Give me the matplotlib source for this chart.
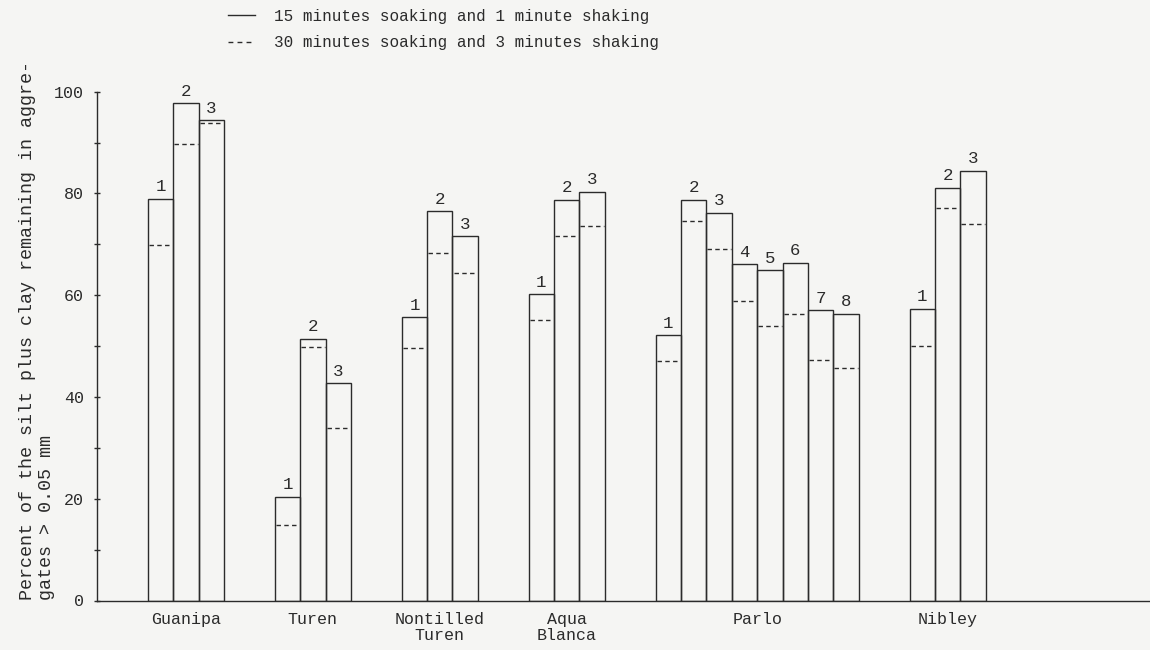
import numpy as np
import matplotlib.pyplot as plt
from matplotlib.lines import Line2D

plt.rcParams['font.family'] = ['Liberation Mono', 'DejaVu Sans Mono']

soils = ["Guanipa", "Turen", "Nontilled\nTuren", "Aqua\nBlanca", "Parlo", "Nibley"]

# % silt+clay left in aggregates, 15 min soaking / 1 min shaking
soak15 = [
    [79.0, 97.7, 94.4],
    [20.4, 51.4, 42.7],
    [55.7, 76.5, 71.6],
    [60.2, 78.8, 80.3],
    [52.1, 78.7, 76.2, 66.1, 64.9, 66.4, 57.0, 56.3],
    [57.3, 81.1, 84.5],
]
# same, 30 min soaking / 3 min shaking
soak30 = [
    [69.8, 89.8, 93.8],
    [14.9, 49.9, 34.0],
    [49.6, 68.2, 64.3],
    [55.2, 71.7, 73.7],
    [47.1, 74.6, 69.0, 58.8, 54.0, 56.3, 47.3, 45.7],
    [50.1, 77.1, 74.0],
]

ink = '#2b2b2b'
bg = '#f5f5f3'
dash = (0, (3.2, 2.4))

fig = plt.figure(figsize=(11.5, 6.5), dpi=100, facecolor=bg)
ax = fig.add_axes([97 / 1150, 49.5 / 650, 1 - 97 / 1150, 508.8 / 650])
ax.set_facecolor(bg)

pos = 0
centers = []
for s_vals, l_vals in zip(soak15, soak30):
    n = len(s_vals)
    xs = pos + np.arange(n)
    ax.bar(xs, s_vals, width=1, align='edge', fill=False,
           edgecolor=ink, linewidth=1.0)
    ax.hlines(l_vals, xs + 0.04, xs + 0.96, colors=ink, linestyles=dash, lw=1.0)
    for k, (x, v) in enumerate(zip(xs, s_vals)):
        ax.text(x + 0.5, v + 0.9, str(k + 1), ha='center', va='bottom',
                fontsize=12.5, color=ink, clip_on=False)
    centers.append(pos + n / 2)
    pos += n + 2

ax.set_xlim(-2.0, 39.47)
ax.set_ylim(0, 100)
ax.spines['top'].set_visible(False)
ax.spines['right'].set_visible(False)
for sp in ('left', 'bottom'):
    ax.spines[sp].set_color(ink)
    ax.spines[sp].set_linewidth(1.0)

ax.set_xticks(centers)
ax.set_xticklabels(soils, fontsize=12, color=ink, linespacing=1.1)
ax.tick_params(axis='x', length=0, pad=8)

ax.set_yticks(np.arange(0, 101, 20))
ax.set_yticks(np.arange(10, 100, 20), minor=True)
ax.tick_params(axis='y', which='both', direction='inout', length=5,
               width=1.0, color=ink)
ax.tick_params(axis='y', which='major', labelsize=12, labelcolor=ink, pad=7)

fig.text(37 / 1150, 50 / 650,
         "Percent of the silt plus clay remaining in aggre-\ngates > 0.05 mm",
         rotation=90, ha='center', va='bottom', multialignment='left',
         fontsize=13.2, color=ink, linespacing=1.1)

handles = [Line2D([], [], color=ink, lw=1.0),
           Line2D([], [], color=ink, lw=1.0, linestyle=(0, (3.5, 3)))]
labels = ["15 minutes soaking and 1 minute shaking",
          "30 minutes soaking and 3 minutes shaking"]
fig.legend(handles, labels, loc='upper left',
           bbox_to_anchor=(228 / 1150, 1 - 9 / 650), frameon=False,
           handlelength=1.7, handletextpad=1.2, labelspacing=0.7,
           borderaxespad=0, borderpad=0, fontsize=11.5, labelcolor=ink)

fig.savefig('out.png', dpi=100, facecolor=bg)
